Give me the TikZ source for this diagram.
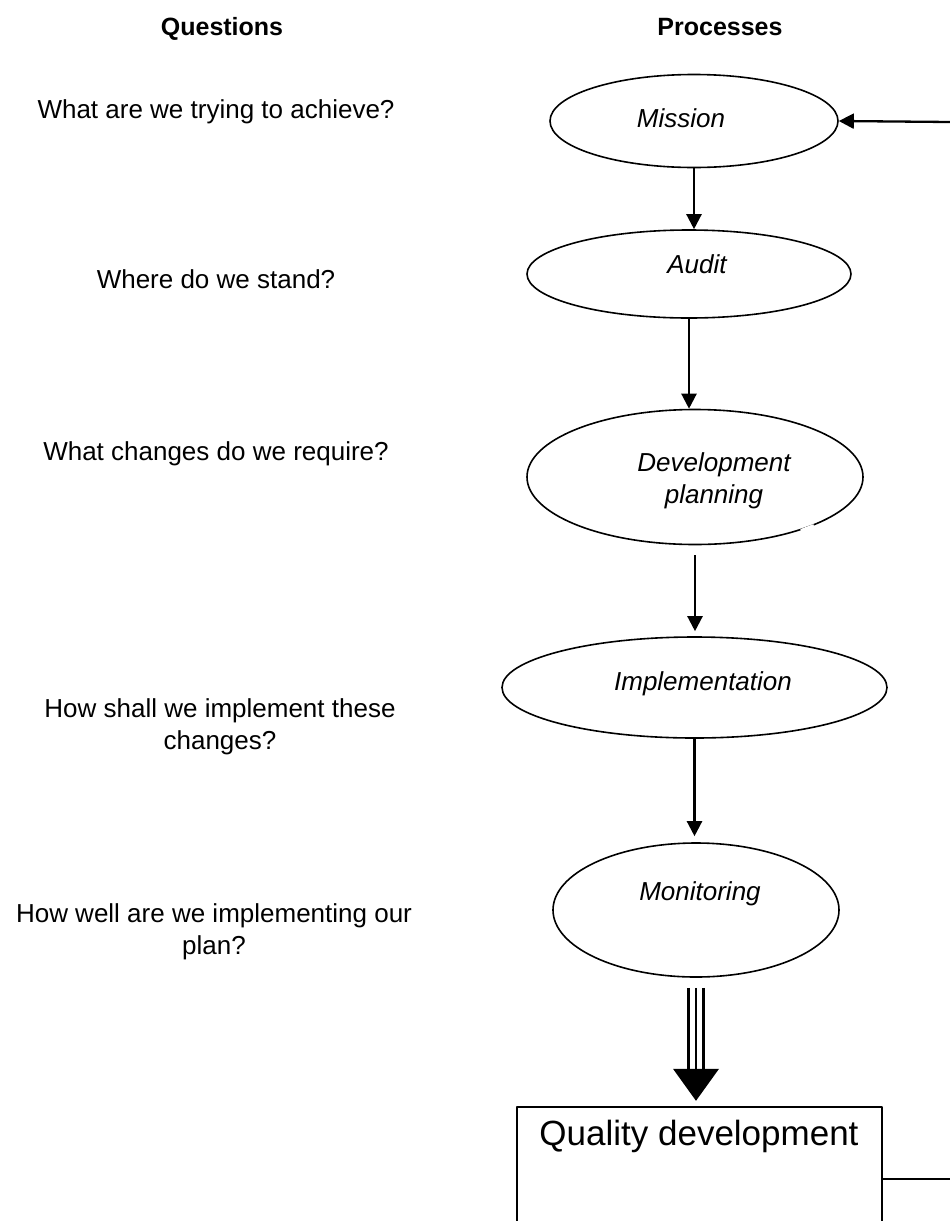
\documentclass[tikz,border=0pt]{standalone}
\usepackage{fontspec}
\setmainfont{Liberation Sans}
\usetikzlibrary{shapes.geometric,arrows.meta,calc}
\begin{document}
\begin{tikzpicture}[x=1pt,y=-1pt,>={Triangle[length=15pt,width=15pt]},line join=round,
	proc/.style={draw,ellipse,line width=1.6pt,inner sep=0pt},
	ptext/.style={inner sep=0pt,align=center,font=\fontsize{26}{32}\selectfont\itshape},
	qtext/.style={inner sep=0pt,align=center,font=\fontsize{26}{32}\selectfont},
	head/.style={inner sep=0pt,font=\fontsize{25}{30}\selectfont\bfseries},
	flow/.style={->,line width=2.3pt}]
	\useasboundingbox (0,0) rectangle (950,1221);
	\fill [white] (0,0) rectangle (950,1221);
	\clip (0,0) rectangle (950,1221);
	\node [head,anchor=base] (qhead) at (222,35) {Questions};
	\node [head,anchor=base] (phead) at (720,35) {Processes};
	\node [qtext,anchor=base] (q1) at (216,118) {What are we trying to achieve?};
	\node [qtext,anchor=base] (q2) at (216,288) {Where do we stand?};
	\node [qtext,anchor=base] (q3) at (216,460) {What changes do we require?};
	\node [qtext] (q4) at (220,727) {How shall we implement these\\changes?};
	\node [qtext] (q5) at (214,932) {How well are we implementing our\\plan?};
	\node [proc,minimum width=288,minimum height=93] (mission) at (694,121) {};
	\node [proc,minimum width=324,minimum height=88] (audit) at (689,274) {};
	\node [proc,minimum width=336,minimum height=135] (devplan) at (695,477) {};
	\node [proc,minimum width=385,minimum height=101] (impl) at (694.5,687.5) {};
	\node [proc,minimum width=286,minimum height=134] (monit) at (696,910) {};
	\node [ptext,anchor=base] (tmission) at (681,127) {Mission};
	\node [ptext,anchor=base] (taudit) at (697,273) {Audit};
	\node [ptext] (tdevplan) at (714,481) {Development\\planning};
	\node [ptext,anchor=base] (timpl) at (703,690) {Implementation};
	\node [ptext,anchor=base] (tmonit) at (700,900) {Monitoring};
	\draw [white,line width=4pt] (801,531)--(814,526);
	\node [draw,line width=1.6pt,inner sep=0pt,minimum width=365,minimum height=144] (quality) at (699.5,1179) {};
	\node [inner sep=0pt,anchor=base,font=\fontsize{35}{40}\selectfont] (tquality) at (699,1145) {Quality development};
	\coordinate (loopin) at (950,122);
	\coordinate (loopout) at (950,1179);
	\draw [flow] (loopin)--(mission.east);
	\draw [flow] (mission.south)--(mission.south |- audit.north);
	\draw [flow] (audit.south)--(audit.south |- devplan.north);
	\draw [flow,shorten <=10pt,shorten >=5pt] (devplan.south)--(devplan.south |- impl.north);
	\draw [flow,shorten >=6pt] (impl.south)--(impl.south |- monit.north);
	\foreach \dx in {-7.5,0,7.5}
		\draw [line width=2.4pt] ($(monit.south)+(\dx,10)$)--++(0,84);
	\fill ($(monit.south)+(-23,91)$)--++(46,0)--($(monit.south)+(0,123)$)--cycle;
	\draw [line width=1.6pt] (quality.east)--(loopout);
\end{tikzpicture}
\end{document}
